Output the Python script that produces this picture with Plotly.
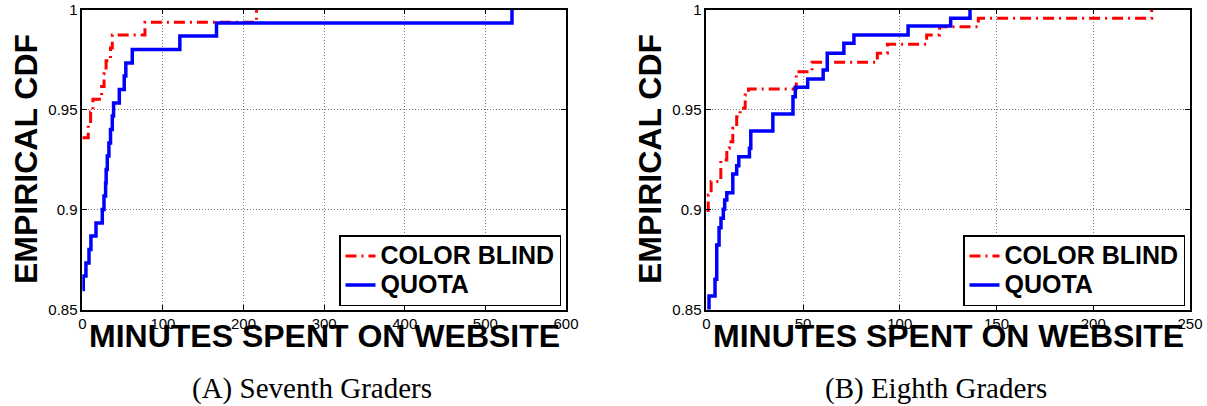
import plotly.graph_objects as go

# ---------------- data ----------------
series_names = ["COLOR BLIND", "QUOTA"]

# (A) Seventh graders
seventh_cb_x = [0, 7.4, 10.3, 13.2, 24.0, 27.0, 29.5, 35.0, 37.2, 77.7, 216.0]
seventh_cb_y = [0.9359, 0.9423, 0.9487, 0.9551, 0.9615, 0.9679, 0.9744, 0.9808, 0.9872, 0.9936, 1.0]
seventh_quota_x = [0, 1.2, 4.5, 8.3, 10.7, 17.0, 24.8, 26.9, 28.9, 29.6, 31.0, 33.0, 35.0, 37.2, 38.8,
                   45.9, 52.0, 54.0, 62.0, 121.0, 166.5, 533.0]
seventh_quota_y = [0.8600, 0.8667, 0.8733, 0.8800, 0.8867, 0.8933, 0.9000, 0.9067, 0.9133, 0.9200,
                   0.9267, 0.9333, 0.9400, 0.9467, 0.9533, 0.9600, 0.9667, 0.9733, 0.9800, 0.9867,
                   0.9933, 1.0]

# (B) Eighth graders
eighth_cb_x = [0, 1.0, 2.5, 7.5, 10.6, 11.9, 13.7, 15.7, 17.5, 20.1, 21.8, 46.5, 54.7, 88.4, 93.6,
               113.9, 120.6, 140.6, 230.2]
eighth_cb_y = [0.8995, 0.9073, 0.9140, 0.9248, 0.9306, 0.9339, 0.9406, 0.9464, 0.9506, 0.9573, 0.9603,
               0.9689, 0.9736, 0.9781, 0.9826, 0.9873, 0.9914, 0.9956, 1.0]
eighth_quota_x = [0, 1.4, 4.5, 5.4, 6.6, 7.6, 8.8, 9.5, 10.6, 13.7, 15.7, 16.8, 22.3, 23.0, 34.4, 44.8,
                  46.0, 52.4, 60.4, 62.5, 71.1, 76.3, 104.3, 126.3, 136.3]
eighth_quota_y = [0.8480, 0.8568, 0.8651, 0.8823, 0.8909, 0.8956, 0.9001, 0.9048, 0.9084, 0.9178,
                  0.9219, 0.9264, 0.9306, 0.9393, 0.9478, 0.9564, 0.9611, 0.9653, 0.9698, 0.9781,
                  0.9831, 0.9873, 0.9918, 0.9956, 1.0]

y_tick_vals = [0.85, 0.9, 0.95, 1.0]
y_tick_text = ["0.85", "0.9", "0.95", "1"]
seventh_x_ticks = [0, 100, 200, 300, 400, 500, 600]
eighth_x_ticks = [0, 50, 100, 150, 200, 250]

x_title = "MINUTES SPENT ON WEBSITE"
y_title = "EMPIRICAL CDF"
captions = ["(A) Seventh Graders", "(B) Eighth Graders"]

# ---------------- layout geometry ----------------
W, H = 1207, 406
def px_x(p):
    return p / W
def px_y(p):
    return 1 - p / H

SANS = "Liberation Sans, Arial, sans-serif"
SERIF = "Liberation Serif, Times New Roman, serif"

red = "#ff0000"
blue = "#0000ff"
red_dash = "11px,5px,2px,5px"

def legend_label(name):
    return '<span style="font-size:25px">' + name + '</span>'

fig = go.Figure()

panels = [
    (seventh_cb_x, seventh_cb_y, seventh_quota_x, seventh_quota_y, "x", "y", "legend"),
    (eighth_cb_x, eighth_cb_y, eighth_quota_x, eighth_quota_y, "x2", "y2", "legend2"),
]
for cbx, cby, qx, qy, xa, ya, lg in panels:
    fig.add_trace(go.Scatter(x=cbx, y=cby, mode="lines", line_shape="hv",
                             name=legend_label(series_names[0]),
                             line=dict(color=red, width=3, dash=red_dash),
                             xaxis=xa, yaxis=ya, legend=lg))
    fig.add_trace(go.Scatter(x=qx, y=qy, mode="lines", line_shape="hv",
                             name=legend_label(series_names[1]),
                             line=dict(color=blue, width=3.5),
                             xaxis=xa, yaxis=ya, legend=lg))

axis_common = dict(
    showline=True, linecolor="black", linewidth=1.5, mirror="ticks",
    ticks="inside", ticklen=5, tickwidth=1, tickcolor="black",
    showgrid=True, gridcolor="#7a7a7a", gridwidth=1, griddash="1px,2px",
    zeroline=False, automargin=False,
    tickfont=dict(family=SANS, size=15, color="black"),
)

legend_common = dict(
    xanchor="right", yanchor="bottom",
    bgcolor="white", bordercolor="black", borderwidth=1.5,
    font=dict(family=SANS, size=20, color="black", weight="bold"),
    tracegroupgap=0, itemwidth=30,
)

y_dom = [px_y(309.5), px_y(9.5)]
fig.update_layout(
    width=W, height=H,
    margin=dict(l=0, r=0, t=0, b=0, pad=0, autoexpand=False),
    paper_bgcolor="white", plot_bgcolor="white",
    showlegend=True,
    xaxis=dict(domain=[px_x(82.3), px_x(566)], range=[0, 600], tickvals=seventh_x_ticks,
               anchor="y", **axis_common),
    yaxis=dict(domain=y_dom, range=[0.85, 1.0], tickvals=y_tick_vals, ticktext=y_tick_text,
               anchor="x", **axis_common),
    xaxis2=dict(domain=[px_x(706.3), px_x(1190)], range=[0, 250], tickvals=eighth_x_ticks,
                anchor="y2", **axis_common),
    yaxis2=dict(domain=y_dom, range=[0.85, 1.0], tickvals=y_tick_vals, ticktext=y_tick_text,
                anchor="x2", **axis_common),
    legend=dict(x=px_x(561), y=px_y(306), **legend_common),
    legend2=dict(x=px_x(1185), y=px_y(306), **legend_common),
)

annotations = []
for cx_plot, cx_cap, cx_ylab, cap in [(324, 312, 26, captions[0]), (948, 936, 650, captions[1])]:
    annotations.append(dict(text=x_title, x=px_x(cx_plot), y=px_y(336), xref="paper", yref="paper",
                            xanchor="center", yanchor="middle", showarrow=False,
                            font=dict(family=SANS, size=32, color="black", weight="bold")))
    annotations.append(dict(text=y_title, x=px_x(cx_ylab), y=px_y(159), xref="paper", yref="paper",
                            xanchor="center", yanchor="middle", showarrow=False, textangle=-90,
                            font=dict(family=SANS, size=32, color="black", weight="bold")))
    annotations.append(dict(text=cap, x=px_x(cx_cap), y=px_y(388), xref="paper", yref="paper",
                            xanchor="center", yanchor="middle", showarrow=False,
                            font=dict(family=SERIF, size=29, color="black")))
fig.update_layout(annotations=annotations)

fig.write_html("out.html",
               config={"displayModeBar": False},
               post_script="document.body.style.margin='0';document.body.style.padding='0';")
